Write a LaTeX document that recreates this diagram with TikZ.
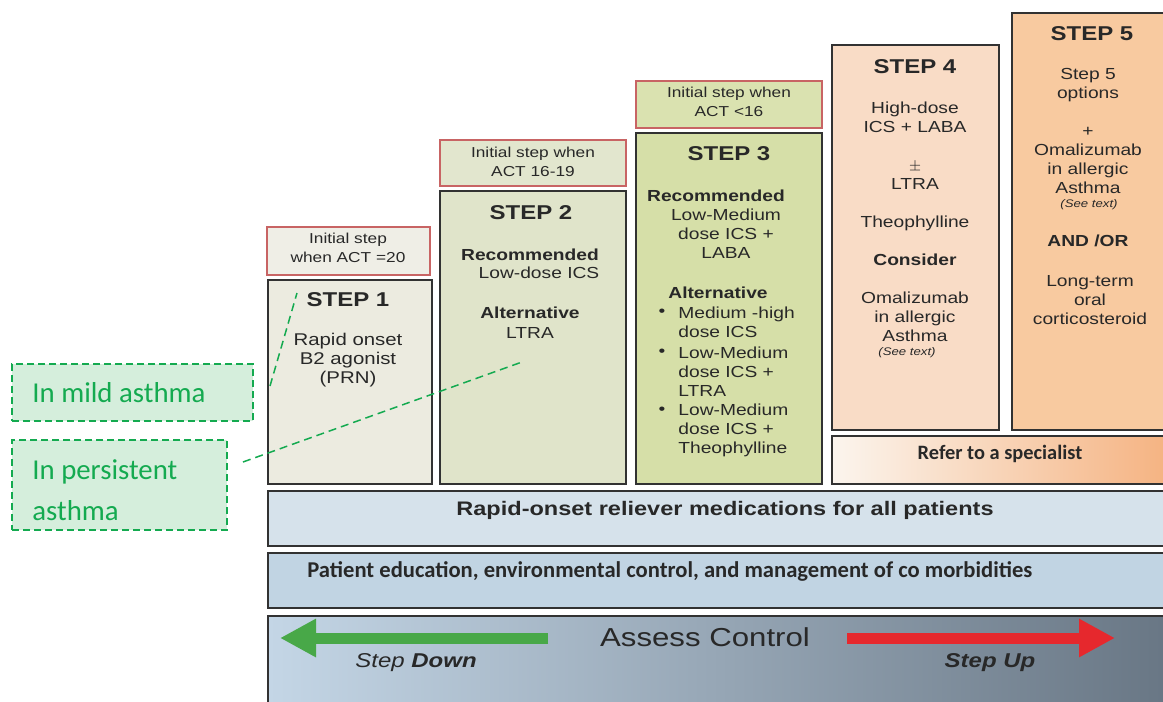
\documentclass[tikz,border=0pt]{standalone}
\usepackage{fontspec}
\setmainfont{Liberation Sans}[FakeStretch=1.2]
\newfontfamily\calib{Carlito}
\usetikzlibrary{arrows.meta}

\definecolor{boxline}{RGB}{50,50,50}
\definecolor{headline}{RGB}{200,100,100}
\definecolor{txtcol}{RGB}{40,40,40}
\definecolor{hdonecol}{RGB}{239,238,230}
\definecolor{sonecol}{RGB}{236,235,224}
\definecolor{hdtwocol}{RGB}{226,230,206}
\definecolor{stwocol}{RGB}{224,228,202}
\definecolor{hdthreecol}{RGB}{218,226,176}
\definecolor{sthreecol}{RGB}{214,223,168}
\definecolor{sfourcol}{RGB}{249,220,198}
\definecolor{sfivecol}{RGB}{248,202,160}
\definecolor{rapidcol}{RGB}{214,226,235}
\definecolor{patientcol}{RGB}{193,212,227}
\definecolor{callgreen}{RGB}{20,170,80}
\definecolor{callfill}{RGB}{213,238,220}
\definecolor{downgreen}{RGB}{72,168,72}
\definecolor{upred}{RGB}{230,40,45}

\tikzset{
  stepbox/.style={draw=boxline, line width=0.75pt, outer sep=0pt, inner sep=0pt, anchor=north west},
  headbox/.style={stepbox, draw=headline, line width=0.6pt},
  txt/.style={text=txtcol, align=center, inner sep=0pt, font=\fontsize{8}{9.5}\selectfont},
  hdtxt/.style={txt, font=\fontsize{7.2}{9.5}\selectfont},
  steptitle/.style={txt, font=\bfseries\fontsize{10}{12}\selectfont},
  seetxt/.style={txt, font=\itshape\fontsize{5.5}{6.5}\selectfont},
  callout/.style={draw=callgreen, fill=callfill, dash pattern=on 3.5pt off 2pt, line width=0.7pt, inner sep=0pt, outer sep=0pt, anchor=north west},
  calltxt/.style={text=callgreen, font=\calib\fontsize{14.4}{20.5}\selectfont, align=left, inner sep=0pt, anchor=west},
  pointer/.style={draw=callgreen, dash pattern=on 4pt off 2.5pt, line width=0.75pt},
  bigarrow/.style={line width=5.5pt, -{Triangle[length=18pt,width=18pt]}}
}

\begin{document}
\begin{tikzpicture}[x=0.5pt,y=-0.5pt]
\useasboundingbox (0,0) rectangle (1163,702);

\node[headbox, fill=hdonecol, minimum width=81.5pt, minimum height=24pt] (h1) at (267,227) {};
\node[stepbox, fill=sonecol, minimum width=82pt, minimum height=102pt] (s1) at (268,280) {};
\node[headbox, fill=hdtwocol, minimum width=93pt, minimum height=23pt] (h2) at (440,140) {};
\node[stepbox, fill=stwocol, minimum width=93pt, minimum height=146.5pt] (s2) at (440,191) {};
\node[headbox, fill=hdthreecol, minimum width=93pt, minimum height=23.5pt] (h3) at (636,81) {};
\node[stepbox, fill=sthreecol, minimum width=93pt, minimum height=175.5pt] (s3) at (636,133) {};
\node[stepbox, fill=sfourcol, minimum width=83.5pt, minimum height=192.5pt] (s4) at (832,45) {};
\node[stepbox, fill=sfivecol, minimum width=80pt, minimum height=208.5pt] (s5) at (1012,13) {};
\node[stepbox, left color={rgb,255:red,251;green,245;blue,238}, right color={rgb,255:red,245;green,178;blue,128}, minimum width=170pt, minimum height=24pt] (refer) at (832,436) {};
\node[stepbox, fill=rapidcol, minimum width=452pt, minimum height=27.5pt] (rapid) at (268,491) {};
\node[stepbox, fill=patientcol, minimum width=452pt, minimum height=27.5pt] (patient) at (268,553) {};
\node[stepbox, left color={rgb,255:red,196;green,214;blue,230}, middle color={rgb,255:red,168;green,187;blue,205}, right color={rgb,255:red,104;green,118;blue,132}, minimum width=452pt, minimum height=50pt] (assess) at (268,616) {};

\node[hdtxt] (h1t) at (348,247.5) {Initial step\\when ACT =20};
\node[steptitle] (s1t) at (348,300) {STEP 1};
\node[txt, font=\fontsize{8.5}{9.5}\selectfont] (s1b) at (348,360) {Rapid onset\\B2 agonist\\(PRN)};

\node[hdtxt] (h2t) at (533,161.5) {Initial step when\\ACT 16-19};
\node[steptitle] (s2t) at (531,213) {STEP 2};
\node[txt, font=\bfseries\fontsize{8}{9.5}\selectfont] (s2r) at (530,255) {Recommended};
\node[txt] (s2rb) at (539,273) {Low-dose ICS};
\node[txt, font=\bfseries\fontsize{8}{9.5}\selectfont] (s2a) at (530,313) {Alternative};
\node[txt] (s2ab) at (530,333) {LTRA};

\node[hdtxt] (h3t) at (729,101.5) {Initial step when\\ACT <16};
\node[steptitle] (s3t) at (729,154) {STEP 3};
\node[txt, font=\bfseries\fontsize{8}{9.5}\selectfont] (s3r) at (716,196) {Recommended};
\node[txt] (s3rb) at (726,234) {Low-Medium\\dose ICS +\\LABA};
\node[txt, font=\bfseries\fontsize{8}{9.5}\selectfont] (s3a) at (718,293) {Alternative};
\node[txt] (b1) at (662,313) {\textbullet};
\node[txt, align=left, anchor=west] (s3i1) at (678,322.5) {Medium -high\\dose ICS};
\node[txt] (b2) at (662,353) {\textbullet};
\node[txt, align=left, anchor=west] (s3i2) at (678,372) {Low-Medium\\dose ICS +\\LTRA};
\node[txt] (b3) at (662,411) {\textbullet};
\node[txt, align=left, anchor=west] (s3i3) at (678,430) {Low-Medium\\dose ICS +\\Theophylline};

\node[steptitle] (s4t) at (915,67) {STEP 4};
\node[txt] (s4b) at (915,221.5) {High-dose\\ICS + LABA\\[9.5pt]\fontsize{7}{9.5}\selectfont$\pm$\\LTRA\\[9.5pt]Theophylline\\[9.5pt]{\bfseries Consider}\\[9.5pt]Omalizumab\\in allergic\\Asthma};
\node[seetxt] (s4s) at (907,353) {(See text)};

\node[steptitle] (s5t) at (1092,34) {STEP 5};
\node[txt] (s5b) at (1088,130.5) {Step 5\\options\\[9.5pt]+\\Omalizumab\\in allergic\\Asthma};
\node[seetxt] (s5s) at (1089,205) {(See text)};
\node[txt, font=\bfseries\fontsize{8}{9.5}\selectfont] (s5o) at (1088,241) {AND /OR};
\node[txt] (s5l) at (1090,300) {Long-term\\oral\\corticosteroid};

\node[txt, font=\calib\bfseries\fontsize{10.2}{11}\selectfont] (refert) at (1000,454) {Refer to a specialist};
\node[txt, font=\bfseries\fontsize{9.8}{11}\selectfont] (rapidt) at (725,510) {Rapid-onset reliever medications for all patients};
\node[txt, anchor=west, font=\calib\bfseries\fontsize{11.3}{12}\selectfont] (patientt) at (307,571) {Patient education, environmental control, and management of co morbidities};

\node[txt, font=\fontsize{13}{15}\selectfont] (assesst) at (705,637) {Assess Control};
\coordinate (dn0) at (548,638);
\coordinate (dn1) at (280,638);
\coordinate (up0) at (847,638);
\coordinate (up1) at (1115,638);
\draw[bigarrow, downgreen] (dn0) -- (dn1);
\draw[bigarrow, upred] (up0) -- (up1);
\node[txt, font=\itshape\fontsize{10}{12}\selectfont] (downt) at (416,663) {Step \textbf{Down}};
\node[txt, font=\bfseries\itshape\fontsize{10}{12}\selectfont] (upt) at (990,663) {Step Up};

\node[callout, minimum width=120.5pt, minimum height=28.5pt] (mild) at (12,364) {};
\node[calltxt] (mildt) at (32,393) {In mild asthma};
\node[callout, minimum width=107.5pt, minimum height=45pt] (persist) at (12,440) {};
\node[calltxt] (persistt) at (32,490.5) {In persistent\\asthma};
\coordinate (m0) at (270,386);
\coordinate (m1) at (297,293);
\coordinate (p0) at (243,462);
\coordinate (p1) at (522,362);
\draw[pointer] (m0) -- (m1);
\draw[pointer] (p0) -- (p1);
\end{tikzpicture}
\end{document}
